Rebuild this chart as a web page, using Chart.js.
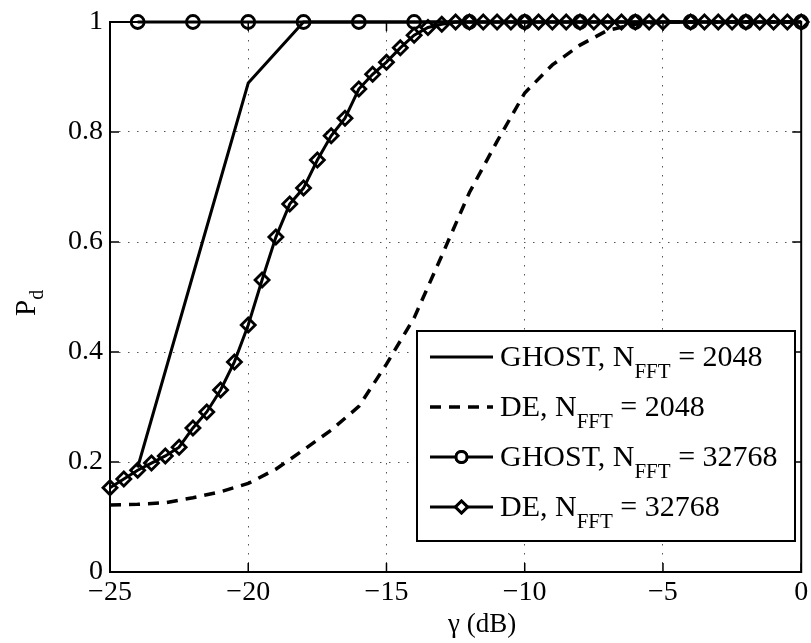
<!DOCTYPE html>
<html>
<head>
<meta charset="utf-8">
<script src="https://cdn.jsdelivr.net/npm/chart.js@4.4.1/dist/chart.umd.min.js"></script>
<style>
    html, body { margin: 0; padding: 0; background: #fff; }
    #wrap { width: 811px; height: 643px; position: relative; }
</style>
</head>
<body>
<div id="wrap"><canvas id="pd-chart"></canvas></div>
<script>
// GHOST detector, markers every 2 dB
const GHOST_SNR = [-24, -22, -20, -18, -16, -14, -12, -10, -8, -6, -4, -2, 0];
const GHOST_2048 = [0.19, 0.54, 0.889, 1, 1, 1, 1, 1, 1, 1, 1, 1, 1];
const GHOST_32768 = [1, 1, 1, 1, 1, 1, 1, 1, 1, 1, 1, 1, 1];

// DE detector, N_FFT = 2048 (1 dB steps)
const DE_2048_SNR = [-25, -24, -23, -22, -21, -20, -19, -18, -17, -16, -15, -14, -13,
    -12, -11, -10, -9, -8, -7, -6, -5, -4, -3, -2, -1, 0];
const DE_2048 = [0.122, 0.123, 0.126, 0.135, 0.146, 0.161, 0.187, 0.222, 0.258, 0.301,
    0.378, 0.462, 0.575, 0.69, 0.783, 0.871, 0.922, 0.958, 0.985, 0.996,
    1, 1, 1, 1, 1, 1];

// DE detector, N_FFT = 32768 (0.5 dB steps, -4.5 missing in the plot)
const DE_32768_SNR = [-25, -24.5, -24, -23.5, -23, -22.5, -22, -21.5, -21, -20.5, -20,
    -19.5, -19, -18.5, -18, -17.5, -17, -16.5, -16, -15.5, -15, -14.5, -14, -13.5, -13,
    -12.5, -12, -11.5, -11, -10.5, -10, -9.5, -9, -8.5, -8, -7.5, -7, -6.5, -6, -5.5, -5,
    -4, -3.5, -3, -2.5, -2, -1.5, -1, -0.5, 0];
const DE_32768 = [0.153, 0.169, 0.185, 0.198, 0.211, 0.227, 0.262, 0.291, 0.331, 0.382, 0.449,
    0.531, 0.609, 0.669, 0.698, 0.749, 0.793, 0.825, 0.878, 0.905, 0.927, 0.953, 0.976, 0.99, 0.996,
    1, 1, 1, 1, 1, 1, 1, 1, 1, 1, 1, 1, 1, 1, 1, 1,
    1, 1, 1, 1, 1, 1, 1, 1, 1];

// Axis ticks
const X_TICKS = [-25, -20, -15, -10, -5, 0];
const Y_TICKS = [0, 0.2, 0.4, 0.6, 0.8, 1];

// Legend text (in legend order)
const LEGEND_METHOD = ['GHOST', 'DE', 'GHOST', 'DE'];
const LEGEND_NFFT = ['2048', '2048', '32768', '32768'];

const SERIF = '"Liberation Serif", "Times New Roman", serif';
const TICK_LEN = 9;

function toPoints(xs, ys) {
    return xs.map((x, i) => ({ x, y: ys[i] }));
}

// line styles, same order as the legend
const STYLES = [
    { borderWidth: 3, borderDash: [], pointStyle: 'circle', pointRadius: 0 },
    { borderWidth: 3.5, borderDash: [11, 8], pointStyle: 'circle', pointRadius: 0 },
    { borderWidth: 3, borderDash: [], pointStyle: 'circle', pointRadius: 6.5 },
    { borderWidth: 3, borderDash: [], pointStyle: 'rectRot', pointRadius: 7 }
];

function dataset(points, style, order) {
    return {
        data: points,
        borderColor: '#000',
        borderWidth: style.borderWidth,
        borderDash: style.borderDash,
        pointStyle: style.pointStyle,
        pointRadius: style.pointRadius,
        pointHoverRadius: style.pointRadius,
        pointBorderColor: '#000',
        pointBorderWidth: 2.8,
        pointBackgroundColor: 'rgba(0,0,0,0)',
        tension: 0,
        fill: false,
        clip: false,
        order
    };
}

function drawLegendLabel(ctx, x, y, method, nfft) {
    const main = `30px ${SERIF}`;
    const sub = `21px ${SERIF}`;
    ctx.font = main;
    const head = method + ', N';
    ctx.fillText(head, x, y);
    x += ctx.measureText(head).width;
    ctx.font = sub;
    ctx.fillText('FFT', x, y + 12);
    x += ctx.measureText('FFT').width;
    ctx.font = main;
    ctx.fillText(' = ' + nfft, x, y);
}

const matlabFrame = {
    id: 'matlabFrame',
    beforeDatasetsDraw(chart) {
        const { ctx, chartArea: a, scales: { x, y } } = chart;
        ctx.save();
        ctx.strokeStyle = '#000';
        ctx.lineWidth = 2;
        ctx.strokeRect(a.left, a.top, a.right - a.left, a.bottom - a.top);
        // inward ticks on all four sides
        ctx.lineWidth = 1.5;
        ctx.beginPath();
        x.ticks.forEach(t => {
            const p = x.getPixelForValue(t.value);
            ctx.moveTo(p, a.bottom); ctx.lineTo(p, a.bottom - TICK_LEN);
            ctx.moveTo(p, a.top); ctx.lineTo(p, a.top + TICK_LEN);
        });
        y.ticks.forEach(t => {
            const p = y.getPixelForValue(t.value);
            ctx.moveTo(a.left, p); ctx.lineTo(a.left + TICK_LEN, p);
            ctx.moveTo(a.right, p); ctx.lineTo(a.right - TICK_LEN, p);
        });
        ctx.stroke();
        ctx.restore();
    },
    afterDraw(chart) {
        const { ctx } = chart;
        ctx.save();
        ctx.fillStyle = '#000';
        ctx.textBaseline = 'alphabetic';
        ctx.textAlign = 'left';

        // x axis title
        ctx.font = `27px ${SERIF}`;
        ctx.fillText('γ (dB)', 448, 632);

        // y axis title, rotated
        ctx.translate(35, 316);
        ctx.rotate(-Math.PI / 2);
        ctx.font = `29px ${SERIF}`;
        ctx.fillText('P', 0, 0);
        const pw = ctx.measureText('P').width;
        ctx.font = `20px ${SERIF}`;
        ctx.fillText('d', pw, 8);
        ctx.restore();

        // legend box
        const box = { left: 417, top: 331, right: 795, bottom: 541 };
        ctx.save();
        ctx.fillStyle = '#fff';
        ctx.fillRect(box.left, box.top, box.right - box.left, box.bottom - box.top);
        ctx.strokeStyle = '#000';
        ctx.lineWidth = 2;
        ctx.strokeRect(box.left, box.top, box.right - box.left, box.bottom - box.top);

        const rowY = [357, 407, 457, 507];
        LEGEND_METHOD.forEach((method, i) => {
            const st = STYLES[i];
            const ly = rowY[i];
            ctx.strokeStyle = '#000';
            ctx.lineWidth = st.borderWidth;
            ctx.setLineDash(st.borderDash);
            ctx.beginPath();
            ctx.moveTo(430, ly);
            ctx.lineTo(493, ly);
            ctx.stroke();
            ctx.setLineDash([]);
            if (st.pointRadius > 0) {
                Chart.helpers.drawPoint(ctx, {
                    pointStyle: st.pointStyle,
                    radius: st.pointRadius - 1,
                    borderWidth: 2.5
                }, 461.5, ly);
                ctx.fillStyle = '#fff';
                ctx.fill();
                ctx.stroke();
            }
            ctx.fillStyle = '#000';
            drawLegendLabel(ctx, 500, ly + 9, method, LEGEND_NFFT[i]);
        });
        ctx.restore();
    }
};

const ctx = document.getElementById('pd-chart');

new Chart(ctx, {
    type: 'line',
    data: {
        datasets: [
            dataset(toPoints(DE_32768_SNR, DE_32768), STYLES[3], 0),
            dataset(toPoints(GHOST_SNR, GHOST_32768), STYLES[2], 1),
            dataset(toPoints(GHOST_SNR, GHOST_2048), STYLES[0], 2),
            dataset(toPoints(DE_2048_SNR, DE_2048), STYLES[1], 3)
        ]
    },
    options: {
        responsive: true,
        maintainAspectRatio: false,
        animation: false,
        devicePixelRatio: 1,
        layout: { padding: { top: 22, right: 7, left: 0, bottom: 0 } },
        plugins: {
            legend: { display: false },
            tooltip: { enabled: false }
        },
        scales: {
            x: {
                type: 'linear',
                min: X_TICKS[0],
                max: X_TICKS[X_TICKS.length - 1],
                afterBuildTicks: s => { s.ticks = X_TICKS.map(value => ({ value })); },
                afterFit: s => { s.height = 71; s.paddingLeft = 0; s.paddingRight = 0; },
                ticks: {
                    color: '#000',
                    padding: 4,
                    maxRotation: 0,
                    font: { family: SERIF, size: 28 },
                    callback: v => (v < 0 ? '\u2212' + Math.abs(v) : String(v))
                },
                grid: { color: '#555', lineWidth: 1, drawTicks: false },
                border: { display: false, dash: [1.5, 7.5] }
            },
            y: {
                type: 'linear',
                min: Y_TICKS[0],
                max: Y_TICKS[Y_TICKS.length - 1],
                afterBuildTicks: s => { s.ticks = Y_TICKS.map(value => ({ value })); },
                afterFit: s => { s.width = 110; s.paddingTop = 0; s.paddingBottom = 0; },
                ticks: {
                    color: '#000',
                    padding: 7,
                    font: { family: SERIF, size: 28 },
                    callback: v => String(+v.toFixed(1))
                },
                grid: { color: '#555', lineWidth: 1, drawTicks: false },
                border: { display: false, dash: [1.5, 7.5] }
            }
        }
    },
    plugins: [matlabFrame]
});
</script>
</body>
</html>
